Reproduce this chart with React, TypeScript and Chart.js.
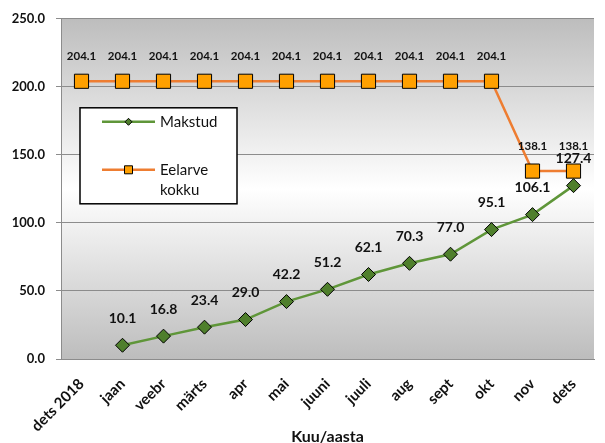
import React, { useEffect, useRef } from "react";
import { Chart, registerables } from "chart.js";

Chart.register(...registerables);

const categories = ["dets 2018", "jaan", "veebr", "märts", "apr", "mai", "juuni", "juuli", "aug", "sept", "okt", "nov", "dets"];
const makstud: (number | null)[] = [null, 10.1, 16.8, 23.4, 29.0, 42.2, 51.2, 62.1, 70.3, 77.0, 95.1, 106.1, 127.4];
const eelarve: number[] = [204.1, 204.1, 204.1, 204.1, 204.1, 204.1, 204.1, 204.1, 204.1, 204.1, 204.1, 138.1, 138.1];
const seriesNames = ["Makstud", "Eelarve kokku"];
const axisTitle = "Kuu/aasta";
const yMin = 0;
const yMax = 250;
const yStep = 50;

const FONT = "Lato, 'Open Sans', sans-serif";
const GREEN_LINE = "#5f9639";
const GREEN_FILL = "#4f7f2c";
const ORANGE_LINE = "#ee7d31";
const ORANGE_FILL = "#ffa000";
const GRID = "#8c8c8c";

const bgPlugin = {
  id: "plotBg",
  beforeDraw(chart: any) {
    const { ctx, chartArea: a } = chart;
    const g = ctx.createLinearGradient(0, a.top, 0, a.bottom);
    g.addColorStop(0, "#bdbdbd");
    g.addColorStop(0.5, "#ffffff");
    g.addColorStop(1, "#bdbdbd");
    ctx.save();
    ctx.fillStyle = g;
    ctx.fillRect(a.left, a.top, a.right - a.left, a.bottom - a.top);
    ctx.restore();
  },
};

const labelPlugin = {
  id: "valueLabels",
  afterDatasetsDraw(chart: any) {
    const { ctx } = chart;
    ctx.save();
    ctx.fillStyle = "#111";
    ctx.textAlign = "center";
    ctx.textBaseline = "middle";
    chart.data.datasets.forEach((ds: any, i: number) => {
      const meta = chart.getDatasetMeta(i);
      const small = i === 1;
      ctx.font = `bold ${small ? 11.5 : 14}px ${FONT}`;
      const off = small ? 25 : 27;
      meta.data.forEach((pt: any, j: number) => {
        const v = ds.data[j];
        if (v === null || v === undefined) return;
        ctx.fillText(Number(v).toFixed(1), pt.x, pt.y - off);
      });
    });
    ctx.restore();
  },
};

function marker(ctx: CanvasRenderingContext2D, style: string, x: number, y: number, r: number, fill: string) {
  ctx.beginPath();
  if (style === "rectRot") {
    ctx.moveTo(x - r, y);
    ctx.lineTo(x, y - r);
    ctx.lineTo(x + r, y);
    ctx.lineTo(x, y + r);
    ctx.closePath();
  } else {
    ctx.rect(x - r, y - r, 2 * r, 2 * r);
  }
  ctx.fillStyle = fill;
  ctx.fill();
  ctx.lineWidth = 1;
  ctx.strokeStyle = "#000";
  ctx.stroke();
}

const legendPlugin = {
  id: "insideLegend",
  afterDraw(chart: any) {
    const { ctx, chartArea: a } = chart;
    const x0 = a.left + 19;
    const y0 = a.top + 89;
    const w = 157;
    const h = 96;
    ctx.save();
    ctx.fillStyle = "#fff";
    ctx.fillRect(x0, y0, w, h);
    ctx.strokeStyle = "#000";
    ctx.lineWidth = 1.5;
    ctx.strokeRect(x0, y0, w, h);
    ctx.font = `15px ${FONT}`;
    ctx.textBaseline = "middle";
    ctx.textAlign = "left";
    chart.data.datasets.forEach((ds: any, i: number) => {
      const ly = y0 + 14 + i * 48;
      ctx.strokeStyle = ds.borderColor;
      ctx.lineWidth = 2.5;
      ctx.beginPath();
      ctx.moveTo(x0 + 22, ly);
      ctx.lineTo(x0 + 75, ly);
      ctx.stroke();
      marker(ctx, ds.pointStyle, x0 + 48.5, ly, ds.pointStyle === "rectRot" ? 3.5 : 4, ds.pointBackgroundColor);
      const maxW = w - 85;
      const words = String(ds.label).split(" ");
      const lines: string[] = [];
      let cur = "";
      words.forEach((wd) => {
        const t = cur ? cur + " " + wd : wd;
        if (cur && ctx.measureText(t).width > maxW) {
          lines.push(cur);
          cur = wd;
        } else cur = t;
      });
      if (cur) lines.push(cur);
      ctx.fillStyle = "#111";
      lines.forEach((ln, k) => ctx.fillText(ln, x0 + 80, ly + k * 20));
    });
    ctx.restore();
  },
};

export default function App() {
  const ref = useRef<HTMLCanvasElement | null>(null);
  useEffect(() => {
    document.body.style.margin = "0";
    if (!ref.current) return;
    const chart = new Chart(ref.current, {
      type: "line",
      data: {
        labels: categories,
        datasets: [
          {
            label: seriesNames[0],
            data: makstud,
            borderColor: GREEN_LINE,
            borderWidth: 2.5,
            pointStyle: "rectRot",
            pointRadius: 7,
            pointBackgroundColor: GREEN_FILL,
            pointBorderColor: "#000",
            pointBorderWidth: 1,
            spanGaps: false,
          },
          {
            label: seriesNames[1],
            data: eelarve,
            borderColor: ORANGE_LINE,
            borderWidth: 2.5,
            pointStyle: "rect",
            pointRadius: 10,
            pointBackgroundColor: ORANGE_FILL,
            pointBorderColor: "#000",
            pointBorderWidth: 1,
          },
        ] as any,
      },
      options: {
        animation: false,
        responsive: false,
        layout: { padding: { top: 17, right: 1, left: 0, bottom: 0 } },
        plugins: { legend: { display: false }, tooltip: { enabled: false } },
        scales: {
          x: {
            offset: true,
            grid: { display: false },
            border: { display: true, color: GRID, width: 1 },
            ticks: {
              color: "#111",
              font: { family: FONT, size: 15, weight: "bold" },
              minRotation: 45,
              maxRotation: 45,
              padding: 8,
              autoSkip: false,
            },
            title: {
              display: true,
              text: axisTitle,
              color: "#111",
              font: { family: FONT, size: 16, weight: "bold" },
              padding: { top: 0, bottom: -3 },
            },
            afterFit(scale: any) {
              scale.height = 84;
            },
          },
          y: {
            min: yMin,
            max: yMax,
            grid: { color: GRID, lineWidth: 1, tickLength: 5, drawTicks: true },
            border: { display: true, color: GRID, width: 1 },
            ticks: {
              stepSize: yStep,
              color: "#111",
              padding: 11,
              font: { family: FONT, size: 13, weight: "bold" },
              callback: (v: any) => Number(v).toFixed(1),
            },
            afterFit(scale: any) {
              scale.width = 61;
            },
          },
        },
      } as any,
      plugins: [bgPlugin, labelPlugin, legendPlugin],
    });
    return () => chart.destroy();
  }, []);
  return (
    <div style={{ position: "absolute", left: 0, top: 0, width: 605, height: 443 }}>
      <canvas ref={ref} width={605} height={443} style={{ width: 605, height: 443 }} />
    </div>
  );
}
